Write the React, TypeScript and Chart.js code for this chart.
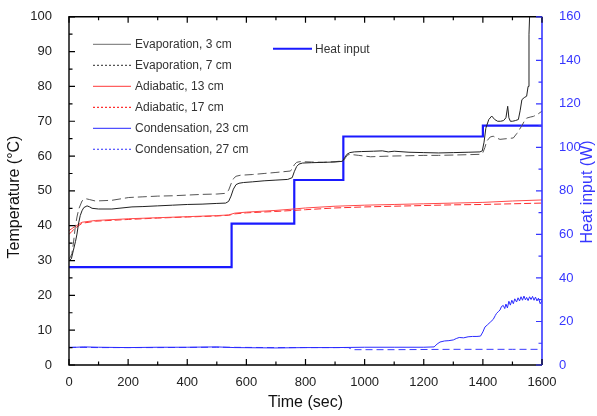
import React, { useEffect, useRef } from "react";
import { Chart, registerables } from "chart.js";

Chart.register(...registerables);

// ---------- data ----------
const evap3Times = [0, 8, 15, 22, 27, 32, 38, 44, 50, 61, 70, 78, 100, 145, 213, 250, 300, 350, 400, 450, 500, 530, 540, 548, 556, 565, 575, 590, 620, 660, 700, 740, 755, 762, 770, 778, 790, 820, 860, 900, 925, 932, 940, 950, 965, 990, 1030, 1060, 1080, 1100, 1150, 1200, 1250, 1300, 1350, 1390, 1398, 1404, 1410, 1420, 1430, 1440, 1450, 1460, 1470, 1478, 1484, 1488, 1493, 1500, 1510, 1520, 1526, 1532, 1540, 1548, 1553, 1556, 1560, 1565];
const evap3Values = [30, 30.5, 33, 35.5, 37.6, 40.5, 42.9, 44.3, 45.2, 45.7, 45.4, 45.0, 44.8, 44.8, 45.4, 45.5, 45.7, 45.9, 46.1, 46.2, 46.4, 46.5, 47, 48.5, 50.5, 51.8, 52.2, 52.4, 52.6, 52.9, 53.1, 53.3, 53.8, 55.5, 57, 57.7, 58, 58.1, 58.2, 58.3, 58.5, 59.5, 60.5, 61, 61.2, 61.3, 61.4, 61.5, 61.2, 61.4, 61.1, 61.0, 60.9, 61.0, 61.1, 61.2, 61.5, 64, 68, 70.5, 71.5, 70.5, 70, 70, 70.2, 71, 74.3, 71, 70, 70, 70.2, 70.5, 73, 76.2, 76.8, 77.2, 80, 95, 105, 115];

const evap7Times = [0, 5, 10, 15, 21, 27, 33, 44, 55, 70, 89, 145, 202, 250, 300, 350, 400, 450, 500, 530, 540, 548, 556, 565, 580, 620, 660, 700, 748, 755, 762, 770, 781, 820, 860, 900, 928, 935, 942, 950, 980, 1020, 1050, 1086, 1150, 1200, 1250, 1300, 1350, 1390, 1400, 1407, 1413, 1425, 1435, 1446, 1458, 1480, 1503, 1515, 1531, 1540, 1548, 1560, 1571, 1585, 1600];
const evap7Values = [30.5, 31, 32, 35, 39.5, 42.5, 44.8, 47.1, 47.8, 47.5, 47.1, 47.3, 48.1, 48.3, 48.5, 48.6, 48.8, 49, 49.1, 49.3, 50.2, 52, 53.5, 54.2, 54.5, 54.7, 55, 55.3, 55.7, 56.2, 57.5, 58.2, 58.4, 58.3, 58.2, 58.4, 58.6, 59.5, 60.3, 60.5, 60.2, 59.8, 59.9, 60, 60.1, 60.2, 60.2, 60.3, 60.4, 60.5, 61, 62.5, 64.3, 65.5, 65.7, 65.2, 64.8, 65, 65.2, 66.5, 68.6, 70, 70.9, 71.2, 71.4, 72, 72.9];

const adia13Times = [0, 10, 21, 44, 89, 202, 300, 400, 500, 540, 560, 600, 700, 760, 800, 900, 1000, 1100, 1200, 1300, 1400, 1500, 1600];
const adia13Values = [38.6, 39.2, 39.8, 41, 41.5, 42.0, 42.3, 42.6, 42.9, 43.1, 43.6, 43.9, 44.4, 44.8, 45.1, 45.6, 45.9, 46.1, 46.3, 46.5, 46.7, 47.1, 47.4];

const adia17Times = [0, 10, 21, 44, 89, 202, 300, 400, 500, 540, 560, 600, 700, 760, 800, 900, 1000, 1100, 1200, 1300, 1400, 1500, 1600];
const adia17Values = [37.5, 38.4, 39.3, 40.7, 41.3, 41.8, 42.2, 42.5, 42.8, 43, 43.4, 43.7, 44.1, 44.4, 44.6, 45.1, 45.4, 45.6, 45.8, 46, 46.1, 46.3, 46.5];

const cond23Times = [0, 50, 100, 200, 300, 400, 500, 560, 700, 800, 900, 1000, 1100, 1200, 1235, 1245, 1255, 1270, 1285, 1300, 1310, 1320, 1335, 1350, 1365, 1380, 1392, 1400, 1407, 1415, 1425, 1435, 1442, 1446, 1452, 1458, 1463, 1469, 1474, 1478, 1483, 1488, 1493, 1498, 1503, 1508, 1514, 1519, 1524, 1529, 1534, 1539, 1544, 1548, 1553, 1558, 1563, 1568, 1573, 1578, 1583, 1588, 1594, 1600];
const cond23Values = [5.0, 5.2, 5.1, 5.0, 5.1, 5.1, 5.2, 5.0, 4.9, 5.0, 5.0, 5.1, 5.1, 5.1, 5.2, 6.0, 6.6, 6.9, 7.0, 7.2, 7.6, 7.9, 7.8, 8.1, 8.2, 8.2, 8.3, 9.5, 10.9, 11.5, 12.3, 13.1, 14.2, 14.8, 15.3, 15.8, 16.8, 17.1, 16.2, 17.5, 16.4, 18.3, 17.2, 18.6, 17.6, 19.0, 18.1, 19.3, 18.4, 19.6, 18.6, 19.8, 18.7, 19.4, 18.5, 19.6, 18.8, 19.7, 18.6, 19.5, 18.4, 19.2, 17.6, 18.5];

const cond27Times = [0, 100, 300, 500, 700, 900, 945, 960, 1100, 1300, 1500, 1600];
const cond27Values = [5.1, 5.0, 5.0, 5.1, 5.0, 5.0, 5.0, 4.4, 4.4, 4.5, 4.5, 4.5];

const heatTimes = [0, 550, 762, 928, 1400, 1600];
const heatValues = [45, 65, 85, 105, 110, 110];

const xTicks = [0, 200, 400, 600, 800, 1000, 1200, 1400, 1600];
const yTicks = [0, 10, 20, 30, 40, 50, 60, 70, 80, 90, 100];
const y2Ticks = [0, 20, 40, 60, 80, 100, 120, 140, 160];

const FONT = '"Liberation Sans", Arial, sans-serif';
const BLUE_AXIS = "#3636ff";

const pts = (t: number[], v: number[]) => t.map((x, i) => ({ x, y: v[i] }));

const legendItems = [
  { label: "Evaporation, 3 cm", color: "#8a8a8a", dash: [] as number[] },
  { label: "Evaporation, 7 cm", color: "#555555", dash: [2, 2] },
  { label: "Adiabatic, 13 cm", color: "#ff6060", dash: [] as number[] },
  { label: "Adiabatic, 17 cm", color: "#ff3030", dash: [2, 2] },
  { label: "Condensation, 23 cm", color: "#5050ff", dash: [] as number[] },
  { label: "Condensation, 27 cm", color: "#5050ff", dash: [2, 2] },
];

const decorPlugin = {
  id: "decor",
  afterDatasetsDraw(chart: any) {
    const { ctx, chartArea: a, scales } = chart;
    const xs = scales.x, ys = scales.y, y2 = scales.y2;
    ctx.save();
    // frame
    ctx.lineWidth = 1.4;
    ctx.strokeStyle = "#000";
    ctx.beginPath();
    ctx.moveTo(a.right, a.top); ctx.lineTo(a.left, a.top); ctx.lineTo(a.left, a.bottom); ctx.lineTo(a.right, a.bottom);
    ctx.stroke();
    ctx.strokeStyle = BLUE_AXIS;
    ctx.lineWidth = 1.6;
    ctx.beginPath(); ctx.moveTo(a.right, a.top); ctx.lineTo(a.right, a.bottom); ctx.stroke();
    // ticks
    ctx.lineWidth = 1.2;
    ctx.strokeStyle = "#000";
    ctx.beginPath();
    for (let v = 0; v <= 100; v += 5) {
      const p = ys.getPixelForValue(v);
      const len = v % 10 === 0 ? 6 : 3.5;
      ctx.moveTo(a.left, p); ctx.lineTo(a.left + len, p);
    }
    for (let v = 0; v <= 1600; v += 100) {
      const p = xs.getPixelForValue(v);
      const len = v % 200 === 0 ? 6 : 3.5;
      ctx.moveTo(p, a.bottom); ctx.lineTo(p, a.bottom - len);
      ctx.moveTo(p, a.top); ctx.lineTo(p, a.top + len);
    }
    ctx.stroke();
    ctx.strokeStyle = BLUE_AXIS;
    ctx.beginPath();
    for (let v = 0; v <= 160; v += 10) {
      const p = y2.getPixelForValue(v);
      const len = v % 20 === 0 ? 6 : 3.5;
      ctx.moveTo(a.right, p); ctx.lineTo(a.right - len, p);
    }
    ctx.stroke();

    // legend (left block)
    ctx.font = `12px ${FONT}`;
    ctx.textBaseline = "middle";
    ctx.textAlign = "left";
    legendItems.forEach((it, i) => {
      const y = a.top + 27.5 + i * 21;
      ctx.strokeStyle = it.color;
      ctx.lineWidth = 1.2;
      ctx.setLineDash(it.dash);
      ctx.beginPath(); ctx.moveTo(a.left + 24, y); ctx.lineTo(a.left + 62, y); ctx.stroke();
      ctx.setLineDash([]);
      ctx.fillStyle = "#333";
      ctx.fillText(it.label, a.left + 66, y + 0.5);
    });
    // heat input legend
    {
      const y = a.top + 32;
      ctx.strokeStyle = "#1a1aff";
      ctx.lineWidth = 2;
      ctx.beginPath(); ctx.moveTo(a.left + 204, y); ctx.lineTo(a.left + 243, y); ctx.stroke();
      ctx.fillStyle = "#333";
      ctx.fillText("Heat input", a.left + 246, y + 0.5);
    }
    // axis titles
    ctx.font = `16px ${FONT}`;
    ctx.textAlign = "center";
    ctx.textBaseline = "middle";
    ctx.fillStyle = "#111";
    ctx.fillText("Time (sec)", (a.left + a.right) / 2, 403);
    ctx.save();
    ctx.translate(15, 197);
    ctx.rotate(-Math.PI / 2);
    ctx.fillText("Temperature (°C)", 0, 0);
    ctx.restore();
    ctx.save();
    ctx.fillStyle = BLUE_AXIS;
    ctx.translate(588, 192);
    ctx.rotate(-Math.PI / 2);
    ctx.fillText("Heat input (W)", 0, 0);
    ctx.restore();
    ctx.restore();
  },
};

const plain = (v: any) => String(v);

export default function App() {
  const ref = useRef<HTMLCanvasElement | null>(null);
  useEffect(() => {
    if (!ref.current) return;
    const chart = new Chart(ref.current, {
      type: "line",
      data: {
        datasets: [
          { label: "Evaporation, 3 cm", data: pts(evap3Times, evap3Values), borderColor: "#222", borderWidth: 1, pointRadius: 0, yAxisID: "y" },
          { label: "Evaporation, 7 cm", data: pts(evap7Times, evap7Values), borderColor: "#555", borderWidth: 1, borderDash: [9, 4], pointRadius: 0, yAxisID: "y" },
          { label: "Adiabatic, 13 cm", data: pts(adia13Times, adia13Values), borderColor: "#ff4a4a", borderWidth: 1, pointRadius: 0, yAxisID: "y" },
          { label: "Adiabatic, 17 cm", data: pts(adia17Times, adia17Values), borderColor: "#ff2a2a", borderWidth: 1, borderDash: [7, 3], pointRadius: 0, yAxisID: "y" },
          { label: "Condensation, 23 cm", data: pts(cond23Times, cond23Values), borderColor: "#2a2aff", borderWidth: 1, pointRadius: 0, yAxisID: "y" },
          { label: "Condensation, 27 cm", data: pts(cond27Times, cond27Values), borderColor: "#3a3aff", borderWidth: 1, borderDash: [7, 4], pointRadius: 0, yAxisID: "y" },
          { label: "Heat input", data: pts(heatTimes, heatValues), borderColor: "#1a1aff", borderWidth: 2.2, stepped: "before", pointRadius: 0, yAxisID: "y2" },
        ],
      },
      options: {
        animation: false,
        responsive: false,
        layout: { padding: { top: 15, left: 0, right: 0, bottom: 0 } },
        plugins: { legend: { display: false }, tooltip: { enabled: false } },
        elements: { line: { tension: 0 } },
        scales: {
          x: {
            type: "linear", min: 0, max: 1600,
            grid: { display: false }, border: { display: false },
            afterBuildTicks: (s: any) => { s.ticks = xTicks.map((v) => ({ value: v })); },
            afterFit: (s: any) => { s.height = 51; },
            ticks: { color: "#222", font: { family: FONT, size: 13 }, padding: 2, maxRotation: 0, autoSkip: false, callback: plain },
          },
          y: {
            type: "linear", position: "left", min: 0, max: 100,
            grid: { display: false }, border: { display: false },
            afterBuildTicks: (s: any) => { s.ticks = yTicks.map((v) => ({ value: v })); },
            afterFit: (s: any) => { s.width = 69; },
            ticks: { color: "#222", font: { family: FONT, size: 13 }, padding: 9, callback: plain },
          },
          y2: {
            type: "linear", position: "right", min: 0, max: 160,
            grid: { display: false }, border: { display: false },
            afterBuildTicks: (s: any) => { s.ticks = y2Ticks.map((v) => ({ value: v })); },
            afterFit: (s: any) => { s.width = 55; },
            ticks: { color: BLUE_AXIS, font: { family: FONT, size: 13 }, padding: 9, callback: plain },
          },
        },
      },
      plugins: [decorPlugin],
    });
    return () => chart.destroy();
  }, []);
  return (
    <div style={{ position: "absolute", left: 0, top: 0, width: 597, height: 416, background: "#fff" }}>
      <canvas ref={ref} width={597} height={416} />
    </div>
  );
}
